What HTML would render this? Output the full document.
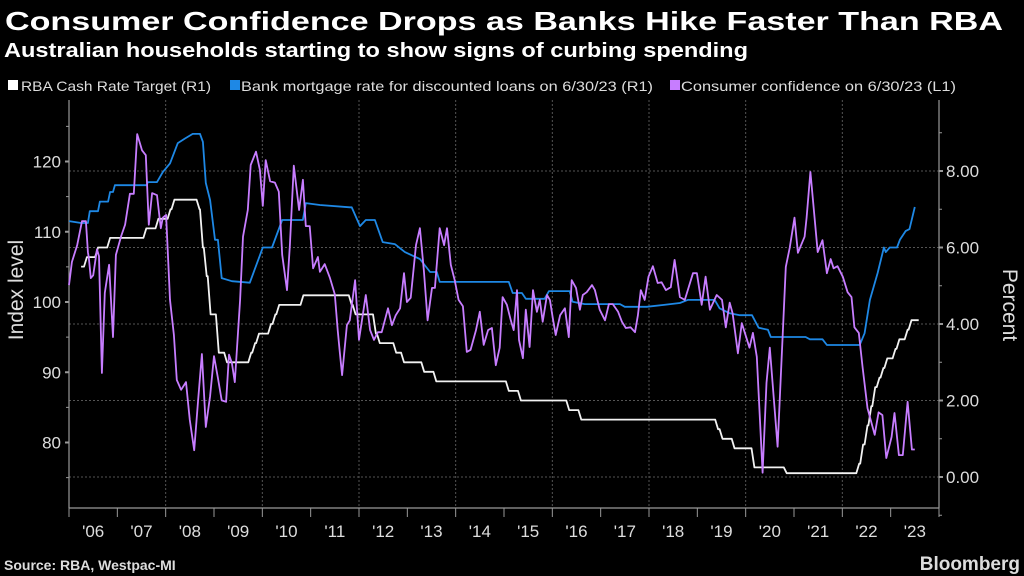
<!DOCTYPE html>
<html><head><meta charset="utf-8"><style>
html,body{margin:0;padding:0;background:#000;}
svg{display:block;font-family:"Liberation Sans","DejaVu Sans",sans-serif;}
</style></head><body>
<svg id="chart" width="1024" height="576" viewBox="0 0 1024 576">
<rect width="1024" height="576" fill="#000"/>
<text x="5" y="30" fill="#fff" font-size="26" font-weight="bold" textLength="998" lengthAdjust="spacingAndGlyphs">Consumer Confidence Drops as Banks Hike Faster Than RBA</text>
<text x="4" y="57" fill="#fff" font-size="20" font-weight="bold" textLength="744" lengthAdjust="spacingAndGlyphs">Australian households starting to show signs of curbing spending</text>
<g>
<g><rect x="8" y="80" width="10" height="10" fill="#fff"/><text x="21" y="91" fill="#ddd" font-size="14" textLength="190" lengthAdjust="spacingAndGlyphs">RBA Cash Rate Target (R1)</text></g>
<g><rect x="230" y="80" width="10" height="10" fill="#1e88e5"/><text x="241" y="91" fill="#ddd" font-size="14" textLength="412" lengthAdjust="spacingAndGlyphs">Bank mortgage rate for discounted loans on 6/30/23 (R1)</text></g>
<g><rect x="670" y="80" width="10" height="10" fill="#c77dff"/><text x="681" y="91" fill="#ddd" font-size="14" textLength="275" lengthAdjust="spacingAndGlyphs">Consumer confidence on 6/30/23 (L1)</text></g>
</g>
<g id="grid"></g>
<g id="axes"></g>
<g id="series"></g>
<text transform="translate(23,290) rotate(-90)" text-anchor="middle" fill="#ddd" font-size="21">Index level</text>
<text transform="translate(1003,305) rotate(90)" text-anchor="middle" fill="#ddd" font-size="21">Percent</text>
<text x="4" y="570" fill="#ddd" font-size="14" font-weight="bold">Source: RBA, Westpac-MI</text>
<text x="1020" y="570" text-anchor="end" fill="#ddd" font-size="19" font-weight="bold">Bloomberg</text>
</svg>
<script>
const yearTicks = [2006,2007,2008,2009,2010,2011,2012,2013,2014,2015,2016,2017,2018,2019,2020,2021,2022,2023];
const yearLabels = ["'06","'07","'08","'09","'10","'11","'12","'13","'14","'15","'16","'17","'18","'19","'20","'21","'22","'23"];
const leftTicks = [80,90,100,110,120];
const rightTicks = [0,2,4,6,8];
const rightTickLabels = ["0.00","2.00","4.00","6.00","8.00"];

const rbaDates = [2006.25,2006.37,2006.6,2006.85,2007.6,2007.85,2008.1,2008.18,2008.7,2008.77,2008.85,2008.93,2009.1,2009.27,2009.77,2009.85,2009.93,2010.18,2010.27,2010.35,2010.85,2011.85,2011.93,2012.35,2012.43,2012.77,2012.93,2013.35,2013.6,2015.1,2015.35,2016.35,2016.6,2019.43,2019.52,2019.77,2020.18,2020.85,2022.35,2022.43,2022.52,2022.6,2022.68,2022.77,2022.85,2022.93,2023.1,2023.18,2023.35,2023.43];
const rbaValues = [5.5,5.75,6.0,6.25,6.5,6.75,7.0,7.25,7.0,6.0,5.25,4.25,3.25,3.0,3.25,3.5,3.75,4.0,4.25,4.5,4.75,4.5,4.25,3.75,3.5,3.25,3.0,2.75,2.5,2.25,2.0,1.75,1.5,1.25,1.0,0.75,0.25,0.1,0.35,0.85,1.35,1.85,2.35,2.6,2.85,3.1,3.35,3.6,3.85,4.1];
const rbaEnd = 2023.58;

const mortDates = [2006.00,2006.25,2006.39,2006.43,2006.60,2006.64,2006.81,2006.85,2006.91,2006.95,2007.61,2007.63,2007.82,2007.94,2008.09,2008.25,2008.40,2008.56,2008.71,2008.77,2008.83,2008.92,2009.02,2009.08,2009.16,2009.37,2009.74,2010.01,2010.20,2010.41,2010.84,2010.90,2011.19,2011.81,2011.85,2012.02,2012.14,2012.33,2012.49,2012.74,2012.95,2013.26,2013.47,2013.61,2013.67,2015.10,2015.18,2015.37,2015.45,2015.84,2015.93,2016.36,2016.42,2016.67,2017.40,2017.50,2017.95,2018.31,2018.64,2018.80,2019.36,2019.46,2019.67,2019.88,2020.13,2020.27,2020.46,2020.52,2021.24,2021.33,2021.59,2021.68,2022.36,2022.46,2022.57,2022.73,2022.86,2022.90,2022.98,2023.13,2023.19,2023.31,2023.39,2023.50];
const mortValues = [6.69,6.64,6.64,6.95,6.95,7.2,7.2,7.45,7.45,7.63,7.63,7.71,7.71,7.97,8.2,8.73,8.85,8.97,8.97,8.76,7.69,7.24,6.2,6.2,5.2,5.12,5.08,6.0,6.0,6.72,6.72,7.16,7.11,7.05,7.05,6.56,6.72,6.72,6.14,6.09,5.88,5.7,5.36,5.36,5.1,5.1,4.81,4.81,4.66,4.66,4.86,4.86,4.58,4.52,4.52,4.45,4.45,4.5,4.55,4.63,4.63,4.41,4.28,4.23,4.23,3.9,3.85,3.66,3.66,3.6,3.6,3.45,3.45,3.76,4.63,5.33,6.0,5.88,6.0,6.0,6.2,6.43,6.48,7.06];

const confDates = [2006.00,2006.06,2006.17,2006.27,2006.35,2006.39,2006.41,2006.45,2006.50,2006.58,2006.62,2006.68,2006.74,2006.83,2006.91,2006.97,2007.08,2007.16,2007.26,2007.34,2007.41,2007.51,2007.59,2007.65,2007.72,2007.82,2007.90,2007.94,2008.01,2008.09,2008.17,2008.23,2008.32,2008.42,2008.50,2008.59,2008.67,2008.75,2008.83,2008.92,2009.00,2009.08,2009.16,2009.25,2009.31,2009.37,2009.43,2009.54,2009.60,2009.70,2009.76,2009.87,2009.95,2010.01,2010.07,2010.16,2010.26,2010.34,2010.41,2010.51,2010.57,2010.65,2010.76,2010.84,2010.90,2010.98,2011.05,2011.15,2011.19,2011.29,2011.40,2011.50,2011.56,2011.60,2011.65,2011.75,2011.81,2011.92,2012.00,2012.14,2012.23,2012.31,2012.39,2012.47,2012.60,2012.68,2012.76,2012.85,2012.93,2012.99,2013.07,2013.18,2013.26,2013.34,2013.42,2013.51,2013.57,2013.67,2013.76,2013.82,2013.90,2013.98,2014.06,2014.15,2014.23,2014.31,2014.42,2014.50,2014.58,2014.67,2014.75,2014.83,2014.91,2014.97,2015.06,2015.14,2015.20,2015.27,2015.31,2015.39,2015.45,2015.53,2015.60,2015.68,2015.74,2015.80,2015.89,2015.95,2016.01,2016.07,2016.16,2016.26,2016.34,2016.40,2016.49,2016.57,2016.63,2016.71,2016.82,2016.88,2016.98,2017.09,2017.17,2017.25,2017.36,2017.44,2017.52,2017.62,2017.71,2017.77,2017.83,2017.91,2017.99,2018.08,2018.18,2018.26,2018.35,2018.45,2018.53,2018.64,2018.74,2018.91,2018.99,2019.09,2019.17,2019.26,2019.40,2019.51,2019.59,2019.67,2019.73,2019.84,2019.92,2020.08,2020.15,2020.23,2020.35,2020.43,2020.50,2020.66,2020.83,2020.91,2021.01,2021.08,2021.22,2021.26,2021.34,2021.49,2021.59,2021.68,2021.76,2021.82,2021.90,2022.01,2022.11,2022.19,2022.25,2022.34,2022.42,2022.52,2022.67,2022.75,2022.83,2022.91,2023.02,2023.08,2023.17,2023.25,2023.35,2023.44,2023.50];
const confValues = [102.4,105.7,108.1,111.5,111.5,107.1,106.3,103.4,103.8,107.5,106.5,89.9,101.3,105.3,95.0,106.7,109.4,111.0,115.4,115.4,123.9,121.6,120.9,111.0,115.5,115.2,110.5,112.0,112.4,100.3,95.3,88.9,87.5,88.6,83.2,78.9,86.0,92.6,82.2,86.6,92.3,89.2,86.0,85.8,92.5,91.3,88.6,100.3,109.3,113.1,119.5,121.4,118.8,113.7,120.2,117.2,117.0,115.7,106.7,101.7,108.1,119.4,113.1,117.4,110.8,110.8,104.8,106.4,104.3,105.4,103.4,101.1,96.0,93.0,89.6,96.7,97.4,103.1,94.6,101.0,96.0,94.6,95.7,95.7,99.1,96.7,98.1,99.1,104.1,100.0,100.6,108.1,110.5,104.6,97.4,102.0,102.0,110.5,108.1,110.5,105.3,103.1,100.3,99.4,92.9,93.2,96.0,98.6,93.9,96.0,96.3,91.0,93.5,100.7,99.6,97.4,96.0,101.7,94.6,92.0,98.9,93.6,101.7,98.6,100.3,97.2,101.0,100.3,97.7,95.3,98.1,99.1,95.0,103.1,102.0,98.9,101.0,101.4,102.4,101.7,98.9,97.4,99.7,99.7,98.6,97.2,96.3,96.4,95.7,98.1,101.7,100.3,103.6,105.1,102.7,102.8,101.7,102.1,106.0,100.7,100.3,104.1,104.1,99.6,103.6,98.9,101.0,100.3,96.4,99.9,98.4,92.7,97.0,93.5,95.6,92.2,75.7,88.5,93.5,79.4,105.0,107.7,112.0,107.0,109.3,112.0,118.5,107.1,108.8,104.1,106.1,104.8,105.1,103.6,101.4,100.7,96.4,95.6,90.7,84.9,81.1,84.3,83.9,77.8,80.8,84.2,78.2,78.2,85.8,79.0,79.0];

const NS = "http://www.w3.org/2000/svg";
const X0 = 69, X1 = 939, YT = 100, YB = 508;
function xScale(t){ return X0 + (t - 2006) / 18 * (X1 - X0); }
function yLeft(v){ return 302 - (v - 100) * 7.025; }
function yRight(v){ return 477 - v * 38.25; }
function mk(tag, attrs, parent){ const e = document.createElementNS(NS, tag); for (const k in attrs) e.setAttribute(k, attrs[k]); parent.appendChild(e); return e; }

const grid = document.getElementById('grid');
const axes = document.getElementById('axes');
const series = document.getElementById('series');

rightTicks.forEach(v => {
  const l = mk('line', {x1:X0, x2:X1, y1:yRight(v), y2:yRight(v), stroke:'#555', 'stroke-dasharray':'2,2', 'stroke-width':1}, grid);
  
  
});
yearTicks.forEach(y => {
  if (y % 2 === 0 && y > 2006) {
    const l = mk('line', {x1:xScale(y), x2:xScale(y), y1:YT, y2:YB, stroke:'#555', 'stroke-dasharray':'2,2', 'stroke-width':1}, grid);
    
    
  }
});

mk('line', {x1:X0, x2:X0, y1:YT, y2:YB, stroke:'#999', 'stroke-width':1.2}, axes);
mk('line', {x1:X1, x2:X1, y1:YT, y2:YB, stroke:'#999', 'stroke-width':1.2}, axes);
mk('line', {x1:X0, x2:X1, y1:YB, y2:YB, stroke:'#999', 'stroke-width':1.2}, axes);

for (let y = 2006; y <= 2024; y++) {
  mk('line', {x1:xScale(y), x2:xScale(y), y1:YB, y2:YB + 9, stroke:'#999', 'stroke-width':1}, axes);
}
yearTicks.forEach((y, i) => {
  const t = mk('text', {x:xScale(y + 0.5), y:537, 'text-anchor':'middle', fill:'#ddd', 'font-size':17}, axes);
  t.textContent = yearLabels[i];
  
  
});
for (let v = 75; v <= 125; v += 5) {
  const major = v % 10 === 0;
  mk('line', {x1:X0 - (major ? 4 : 3), x2:X0, y1:yLeft(v), y2:yLeft(v), stroke:'#999', 'stroke-width':major ? 2 : 1}, axes);
}
leftTicks.forEach(v => {
  const t = mk('text', {x:61, y:yLeft(v) + 6, 'text-anchor':'end', fill:'#ddd', 'font-size':17}, axes);
  t.textContent = String(v);
  
  
});
for (let v = -1; v <= 9; v++) {
  const major = v % 2 === 0;
  mk('line', {x1:X1, x2:X1 + (major ? 4 : 3), y1:yRight(v), y2:yRight(v), stroke:'#999', 'stroke-width':major ? 2 : 1}, axes);
}
rightTicks.forEach((v, i) => {
  const t = mk('text', {x:946, y:yRight(v) + 6, fill:'#ddd', 'font-size':17}, axes);
  t.textContent = rightTickLabels[i];
  
  
});

function pathFrom(pts){ return pts.map((p, i) => (i ? 'L' : 'M') + p[0].toFixed(1) + ',' + p[1].toFixed(1)).join(''); }

// RBA: step with one-month ramps
const rbaPts = [];
rbaDates.forEach((d, i) => {
  if (i > 0) rbaPts.push([xScale(d - 0.06), yRight(rbaValues[i - 1])]);
  rbaPts.push([xScale(d), yRight(rbaValues[i])]);
});
rbaPts.push([xScale(rbaEnd), yRight(rbaValues[rbaValues.length - 1])]);

const mortPts = mortDates.map((d, i) => [xScale(d), yRight(mortValues[i])]);
const confPts = confDates.map((d, i) => [xScale(d), yLeft(confValues[i])]);

const pm = mk('path', {d:pathFrom(mortPts), fill:'none', stroke:'#1e88e5', 'stroke-width':1.8, 'stroke-linejoin':'round'}, series);


const pr = mk('path', {d:pathFrom(rbaPts), fill:'none', stroke:'#f2f2f2', 'stroke-width':1.8, 'stroke-linejoin':'round'}, series);


const pc = mk('path', {d:pathFrom(confPts), fill:'none', stroke:'#c77dff', 'stroke-width':1.8, 'stroke-linejoin':'round'}, series);


</script>
</body></html>
